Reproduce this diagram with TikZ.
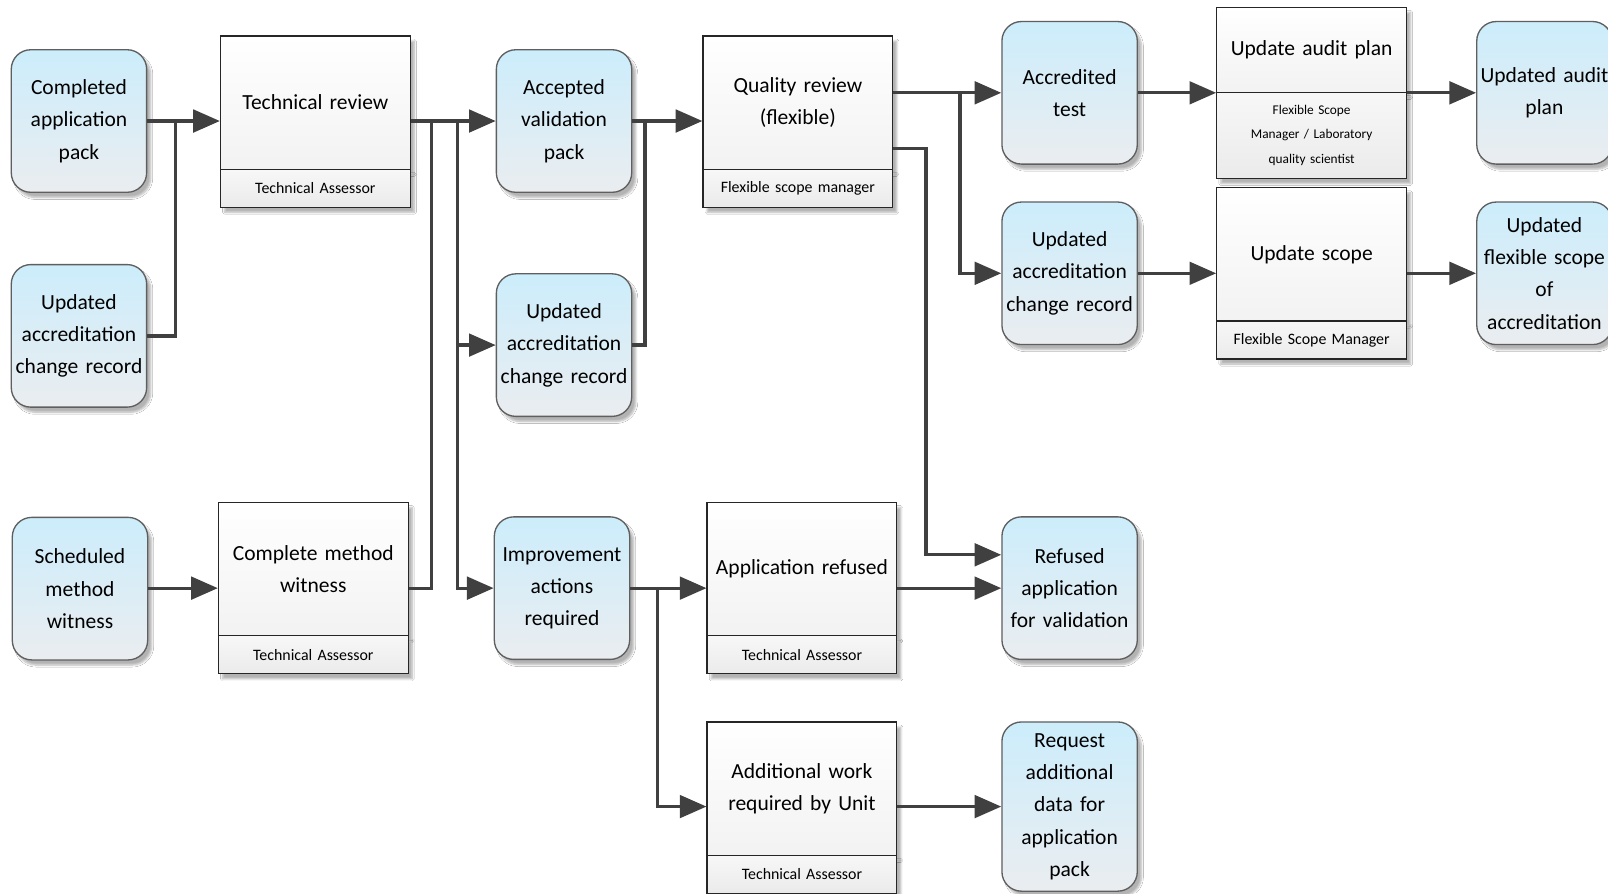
\documentclass[tikz,border=0pt]{standalone}
\usepackage{fontspec}
\setmainfont{Carlito}
\usetikzlibrary{arrows.meta,shadows.blur,calc}

\definecolor{datatop}{RGB}{204,237,251}
\definecolor{databot}{RGB}{234,237,240}
\definecolor{linegrey}{RGB}{64,64,64}
\definecolor{edgegrey}{RGB}{95,95,95}

\newcommand\maintext{\fontsize{21}{31.5}\selectfont}
\newcommand\roletext{\fontsize{15.5}{20}\selectfont}
\newcommand\roletextsmall{\fontsize{13}{24}\selectfont}

\tikzset{
  softshadow/.style={blur shadow={shadow xshift=4pt, shadow yshift=-5pt,
      shadow opacity=30, shadow blur steps=6}},
  databox/.style={draw=edgegrey, line width=1.3pt, rounded corners=19pt,
      top color=datatop, bottom color=databot,
      minimum width=132pt, minimum height=139pt, text width=128pt,
      align=center, font=\maintext, inner sep=0pt, softshadow},
  taskbox/.style={draw=black!85, line width=1.2pt,
      top color=white, bottom color=black!5,
      minimum width=185pt, minimum height=130pt, text width=180pt,
      align=center, font=\maintext, inner sep=0pt, softshadow},
  rolebox/.style={draw=black!85, line width=1.2pt,
      top color=black!3, bottom color=black!8,
      minimum width=185pt, minimum height=37pt, text width=180pt,
      align=center, font=\roletext, inner sep=0pt, softshadow},
  flow/.style={draw=linegrey, line width=3.2pt,
      -{Triangle[length=26pt,width=22pt]}},
  link/.style={draw=linegrey, line width=3.2pt},
}

\begin{document}
\begin{tikzpicture}[x=1pt, y=-1pt]
\useasboundingbox (0,0) rectangle (1568,871);
\fill[white] (0,0) rectangle (1568,871);
\clip (0,0) rectangle (1568,871);

% information items
\node[databox] (cap)   at (77,118)     {Completed\\application\\pack};
\node[databox] (uacrL) at (77,327.5)   {Updated\\accreditation\\change record};
\node[databox] (smw)   at (78,574)     {Scheduled\\method\\witness};
\node[databox] (avp)   at (550,118)    {Accepted\\validation\\pack};
\node[databox] (uacrM) at (550,336.5)  {Updated\\accreditation\\change record};
\node[databox] (iar)   at (548,573.5)  {Improvement\\actions\\required};
\node[databox] (acc)   at (1043,90.5)  {Accredited\\test};
\node[databox] (uacrR) at (1043,266.5) {Updated\\accreditation\\change record};
\node[databox] (raf)   at (1043,573.5) {Refused\\application\\for validation};
\node[databox, minimum height=165pt] (radp) at (1043,786.5)
      {Request\\additional\\data for\\application\\pack};
\node[databox] (uap)   at (1506,90.5)  {Updated audit\\plan};
\node[databox] (ufs)   at (1506,266.5) {Updated\\flexible scope\\of\\accreditation};

% activities with their roles
\node[taskbox] (trm)  at (307.5,100)  {Technical review};
\node[rolebox] (trr)  at (307.5,183.5) {Technical Assessor};
\node[taskbox] (qrm)  at (778,100)    {Quality review\\(flexible)};
\node[rolebox] (qrr)  at (778,183.5)  {Flexible scope manager};
\node[taskbox] (cmwm) at (305.5,555)  {Complete method\\witness};
\node[rolebox] (cmwr) at (305.5,638.5) {Technical Assessor};
\node[taskbox] (arm)  at (782,555)    {Application refused};
\node[rolebox] (arr)  at (782,638.5)  {Technical Assessor};
\node[taskbox] (awm)  at (782,769)    {Additional work\\required by Unit};
\node[rolebox] (awr)  at (782,852.5)  {Technical Assessor};
\node[taskbox, minimum height=83pt] (uapm) at (1279,48.5) {Update audit plan};
\node[rolebox, minimum height=84pt, font=\roletextsmall] (uapr) at (1279,132)
      {Flexible Scope\\Manager / Laboratory\\quality scientist};
\node[taskbox] (usm)  at (1279,248)   {Update scope};
\node[rolebox] (usr)  at (1279,331.5) {Flexible Scope Manager};

% junction points of the connectors
\coordinate (j1) at (171,118);
\coordinate (j2) at (421,118);
\coordinate (j3) at (446,118);
\coordinate (j4) at (629,118);
\coordinate (j5) at (936,90.5);
\coordinate (j6) at (903,145);
\coordinate (j7) at (641,573.5);

% connectors
\draw[flow] (cap.east) -- (cap.east -| trm.west);
\draw[link] (uacrL.east) -| (j1);
\draw[flow] (smw.east |- iar.west) -- (iar.west -| cmwm.west);
\draw[flow] (avp.west -| trm.east) -- (avp.west);
\draw[link] (cmwm.east |- iar.west) -| (j2);
\draw[flow] (j3) |- (iar.west);
\draw[flow] (j3 |- uacrM.west) -- (uacrM.west);
\draw[flow] (avp.east) -- (avp.east -| qrm.west);
\draw[link] (uacrM.east) -| (j4);
\draw[flow] (acc.west -| qrm.east) -- (acc.west);
\draw[flow] (j5) |- (uacrR.west);
\draw[flow] (j6 -| qrm.east) -- (j6) |- ([yshift=32.5pt]raf.west);
\draw[flow] (raf.west -| arm.east) -- (raf.west);
\draw[flow] (iar.east) -- (iar.east -| arm.west);
\draw[flow] (j7) |- (radp.west -| awm.west);
\draw[flow] (radp.west -| awm.east) -- (radp.west);
\draw[flow] (acc.east) -- (acc.east -| uapm.west);
\draw[flow] (uap.west -| uapm.east) -- (uap.west);
\draw[flow] (uacrR.east) -- (uacrR.east -| usm.west);
\draw[flow] (ufs.west -| usm.east) -- (ufs.west);
\end{tikzpicture}
\end{document}
